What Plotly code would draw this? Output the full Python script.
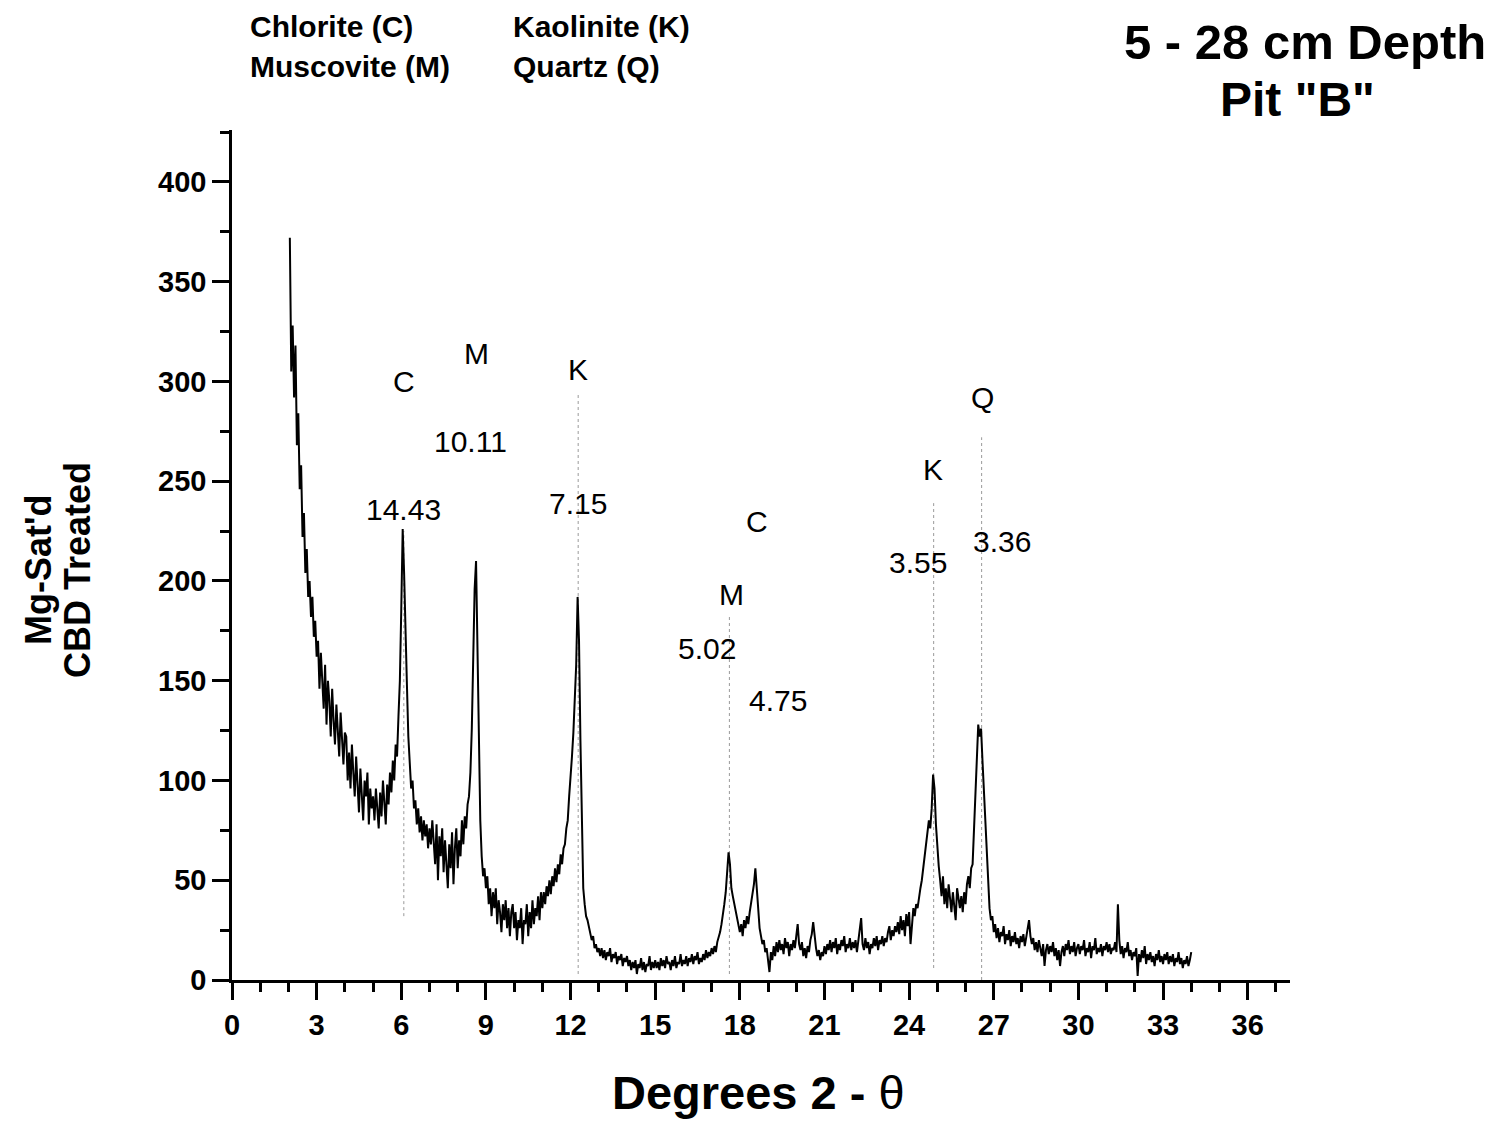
import plotly.graph_objects as go

# ---------------- data ----------------
scan_start = 2.05   # first 2-theta of the scan
scan_step = 0.05    # 2-theta step of the scan

intensity = [
    # 2.05 - 3.00
    372, 305, 328, 292, 318, 268, 284, 246, 258, 222, 234, 204, 216, 192, 200, 182, 192, 172, 180, 162,
    # 3.05 - 4.00
    170, 146, 164, 150, 136, 158, 128, 150, 140, 122, 146, 130, 118, 138, 126, 112, 134, 120, 108, 124,
    # 4.05 - 5.00
    122, 100, 114, 96, 118, 104, 92, 112, 98, 84, 106, 94, 80, 100, 92, 104, 78, 96, 86, 92,
    # 5.05 - 6.00
    80, 96, 84, 76, 94, 82, 100, 86, 78, 98, 88, 104, 94, 110, 100, 118, 112, 132, 150, 186,
    # 6.05 - 7.00
    226, 204, 168, 148, 122, 110, 96, 100, 86, 90, 78, 86, 74, 82, 70, 80, 72, 78, 66, 76,
    # 7.05 - 8.00
    68, 80, 66, 58, 78, 50, 72, 62, 76, 54, 70, 60, 46, 68, 56, 74, 48, 66, 76, 56,
    # 8.05 - 9.00
    70, 62, 80, 68, 82, 76, 88, 92, 104, 126, 160, 196, 210, 158, 108, 80, 62, 52, 56, 46,
    # 9.05 - 10.00
    52, 38, 46, 32, 44, 36, 46, 28, 40, 34, 24, 38, 30, 40, 26, 36, 22, 34, 38, 26,
    # 10.05 - 11.00
    34, 20, 30, 26, 36, 18, 30, 28, 38, 22, 34, 26, 40, 28, 36, 32, 42, 30, 44, 36,
    # 11.05 - 12.00
    44, 38, 47, 42, 50, 43, 52, 47, 56, 49, 58, 53, 63, 58, 66, 68, 76, 80, 92, 100,
    # 12.05 - 13.00
    112, 124, 140, 158, 192, 170, 120, 70, 46, 38, 32, 30, 26, 24, 20, 22, 16, 18, 14, 16,
    # 13.05 - 14.00
    12, 16, 11, 15, 10, 14, 12, 16, 9, 13, 11, 14, 8, 12, 10, 13, 7, 11, 9, 12,
    # 14.05 - 15.00
    7, 10, 5, 9, 6, 10, 3, 8, 6, 11, 5, 9, 4, 8, 7, 12, 5, 9, 6, 10,
    # 15.05 - 16.00
    6, 9, 5, 11, 7, 10, 6, 12, 8, 9, 5, 10, 7, 12, 6, 9, 8, 13, 7, 10,
    # 16.05 - 17.00
    8, 12, 7, 11, 9, 13, 8, 12, 10, 14, 8, 11, 9, 13, 10, 15, 11, 14, 12, 16,
    # 17.05 - 18.00
    13, 17, 14, 19, 21, 24, 28, 32, 38, 44, 52, 64, 58, 46, 42, 38, 36, 32, 26, 24,
    # 18.05 - 19.00
    28, 22, 30, 26, 32, 28, 34, 38, 44, 48, 56, 44, 34, 26, 22, 18, 20, 14, 16, 10,
    # 19.05 - 20.00
    4, 14, 10, 17, 12, 19, 14, 20, 15, 18, 13, 21, 16, 19, 12, 18, 15, 20, 16, 22,
    # 20.05 - 21.00
    28, 18, 15, 19, 12, 16, 11, 17, 14, 20, 23, 29, 22, 16, 12, 15, 10, 14, 12, 17,
    # 21.05 - 22.00
    13, 18, 15, 20, 14, 19, 16, 21, 13, 18, 15, 20, 17, 22, 14, 18, 16, 21, 15, 19,
    # 22.05 - 23.00
    16, 20, 14, 19, 24, 31, 18, 15, 21, 16, 19, 13, 18, 16, 21, 17, 22, 15, 20, 18,
    # 23.05 - 24.00
    22, 17, 21, 19, 24, 27, 20, 25, 22, 27, 24, 29, 23, 32, 25, 30, 22, 33, 27, 34,
    # 24.05 - 25.00
    18, 30, 36, 32, 38, 36, 42, 46, 50, 56, 60, 66, 72, 80, 76, 86, 103, 96, 78, 66,
    # 25.05 - 26.00
    57, 50, 42, 52, 38, 46, 36, 48, 40, 34, 44, 38, 30, 46, 40, 36, 42, 34, 44, 38,
    # 26.05 - 27.00
    48, 52, 46, 56, 58, 74, 90, 112, 128, 122, 126, 110, 94, 76, 60, 44, 36, 30, 32, 24,
    # 27.05 - 28.00
    28, 21, 26, 19, 24, 22, 27, 18, 23, 20, 25, 17, 22, 19, 24, 18, 21, 16, 22, 19,
    # 28.05 - 29.00
    23, 17, 21, 26, 30, 22, 18, 21, 15, 19, 14, 20, 16, 12, 18, 7, 15, 18, 13, 17,
    # 29.05 - 30.00
    14, 19, 12, 16, 10, 15, 7, 14, 17, 12, 18, 15, 20, 13, 17, 14, 19, 12, 16, 18,
    # 30.05 - 31.00
    13, 17, 15, 20, 12, 16, 14, 19, 11, 17, 15, 21, 13, 16, 14, 18, 12, 17, 15, 19,
    # 31.05 - 32.00
    14, 18, 13, 16, 15, 19, 14, 38, 20, 13, 17, 11, 16, 14, 19, 12, 15, 10, 14, 12,
    # 32.05 - 33.00
    16, 2, 13, 9, 15, 11, 17, 8, 13, 10, 14, 9, 12, 7, 13, 10, 15, 9, 12, 8,
    # 33.05 - 34.00
    13, 10, 14, 8, 12, 9, 13, 7, 11, 9, 14, 8, 11, 6, 10, 8, 12, 7, 10, 14,
]
two_theta = [round(scan_start + i * scan_step, 2) for i in range(len(intensity))]

x_tick_values = list(range(0, 37, 3))
y_tick_values = list(range(0, 401, 50))

# peak reference (dotted) lines
peak_two_theta = [6.09, 12.27, 17.63, 24.87, 26.57]
peak_line_top = [225, 294, 182, 239, 272]
peak_line_bottom = [32, 3, 3, 6, 0]

# mineral letters above peaks
mineral_text = ["C", "M", "K", "C", "M", "K", "Q"]
mineral_x = [6.09, 8.68, 12.27, 18.62, 17.69, 24.83, 26.60]
mineral_y = [300, 314, 306, 230, 193, 256, 292]

# d-spacings (Angstrom) above peaks
spacing_text = ["14.43", "10.11", "7.15", "5.02", "4.75", "3.55", "3.36"]
spacing_x = [6.09, 8.47, 12.27, 16.84, 19.37, 24.33, 27.28]
spacing_y = [236, 270, 239, 166, 140, 209, 220]

legend_lines = [["Chlorite (C)", "Kaolinite (K)"], ["Muscovite (M)", "Quartz (Q)"]]
title_lines = ["5 - 28 cm Depth", 'Pit "B"']
y_title_lines = ["Mg-Sat'd", "CBD Treated"]

# ---------------- layout geometry (pixels) ----------------
W, H = 1498, 1123
L, R, T, B = 232, 1290, 130, 980
FONT = "Liberation Sans, Arial, Helvetica, sans-serif"


def px(x):
    return (x - L) / (R - L)


def py(y):
    return (B - y) / (B - T)


fig = go.Figure()
fig.add_trace(go.Scatter(
    x=two_theta, y=intensity, mode="lines",
    line=dict(color="black", width=2.0),
    hoverinfo="skip", showlegend=False,
))

shapes = []
for xp, yt, yb in zip(peak_two_theta, peak_line_top, peak_line_bottom):
    shapes.append(dict(type="line", xref="x", yref="y", x0=xp, x1=xp, y0=yb, y1=yt,
                       line=dict(color="#9a9a9a", width=1, dash="dot"), layer="below"))

annotations = []
for t, x, y in zip(mineral_text, mineral_x, mineral_y):
    annotations.append(dict(text=t, x=x, y=y, xref="x", yref="y", showarrow=False,
                            xanchor="center", yanchor="middle",
                            font=dict(family=FONT, size=30, color="black")))
for t, x, y in zip(spacing_text, spacing_x, spacing_y):
    annotations.append(dict(text=t, x=x, y=y, xref="x", yref="y", showarrow=False,
                            xanchor="center", yanchor="middle",
                            font=dict(family=FONT, size=30, color="black")))

# legend-like text at top left
leg_x = [248, 511]
leg_y = [26, 66]
for r, row in enumerate(legend_lines):
    for c, t in enumerate(row):
        annotations.append(dict(text=t, x=px(leg_x[c]), y=py(leg_y[r]), xref="paper", yref="paper",
                                showarrow=False, xanchor="left", yanchor="middle",
                                font=dict(family=FONT, size=30, color="black", weight="bold")))

# title at top right
annotations.append(dict(text=title_lines[0], x=px(1488), y=py(42), xref="paper", yref="paper",
                        showarrow=False, xanchor="right", yanchor="middle",
                        font=dict(family=FONT, size=49, color="black", weight="bold")))
annotations.append(dict(text=title_lines[1], x=px(1297), y=py(100), xref="paper", yref="paper",
                        showarrow=False, xanchor="center", yanchor="middle",
                        font=dict(family=FONT, size=48, color="black", weight="bold")))

# x axis title
annotations.append(dict(text="<b>Degrees 2 - </b>θ", x=px(758), y=py(1092), xref="paper", yref="paper",
                        showarrow=False, xanchor="center", yanchor="middle",
                        font=dict(family=FONT, size=47, color="black")))

# y axis title (two rotated lines)
for t, xc in zip(y_title_lines, [38, 77]):
    annotations.append(dict(text=t, x=px(xc), y=py(570), xref="paper", yref="paper",
                            showarrow=False, xanchor="center", yanchor="middle", textangle=-90,
                            font=dict(family=FONT, size=36, color="black", weight="bold")))

axis_common = dict(
    showgrid=False, zeroline=False, showline=True, linecolor="black", linewidth=2.5,
    ticks="outside", ticklen=17, tickwidth=2.5, tickcolor="black",
    tickfont=dict(family=FONT, size=29, color="black", weight="bold"),
    mirror=False,
)

fig.update_layout(
    width=W, height=H, autosize=False,
    margin=dict(l=L, r=W - R, t=T, b=H - B, pad=0),
    paper_bgcolor="white", plot_bgcolor="white",
    showlegend=False,
    xaxis=dict(range=[0, 37.5], tickvals=x_tick_values,
               minor=dict(tick0=0, dtick=1, ticks="outside", ticklen=9, tickwidth=2.5, tickcolor="black"),
               **axis_common),
    yaxis=dict(range=[0, 426], tickvals=y_tick_values,
               minor=dict(tick0=0, dtick=25, ticks="outside", ticklen=9, tickwidth=2.5, tickcolor="black"),
               **axis_common),
    shapes=shapes,
    annotations=annotations,
)

fig.write_html("out.html")
